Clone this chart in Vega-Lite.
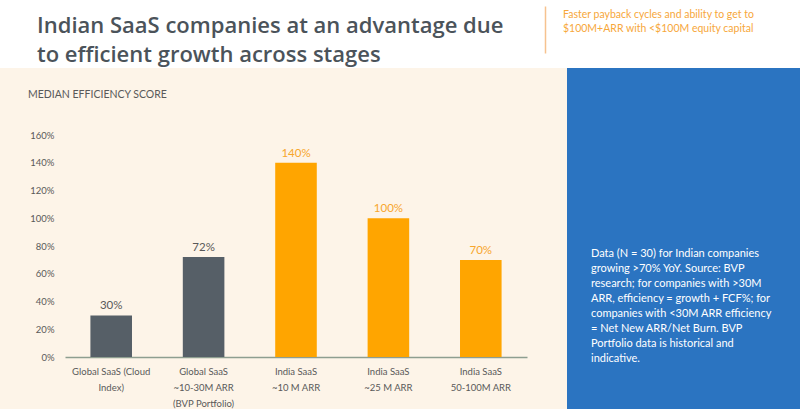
{
  "$schema": "https://vega.github.io/schema/vega-lite/v6.json",
  "background": "white",
  "padding": 0,
  "spacing": 0,
  "config": {"view": {"stroke": null}, "font": "Lato", "concat": {"spacing": 0}},
  "vconcat": [
    {
      "spacing": 0,
      "hconcat": [
        {
          "width": 545,
          "height": 68,
          "data": {"values": []},
          "mark": "point",
          "title": {
            "text": ["Indian SaaS companies at an advantage due", "to efficient growth across stages"],
            "orient": "top", "anchor": "start", "frame": "group", "offset": 0,
            "baseline": "alphabetic", "dx": 37, "dy": 84, "lineHeight": 29,
            "font": "Open Sans", "fontSize": 22, "fontWeight": 600, "color": "#4b535a"
          }
        },
        {
          "width": 255,
          "height": 68,
          "data": {"values": [{"k": 1}]},
          "mark": {"type": "point", "opacity": 0},
          "encoding": {
            "y": {
              "datum": 0, "type": "quantitative",
              "scale": {"domain": [0, 1], "range": [53, 6]},
              "axis": {"orient": "left", "domain": true, "domainColor": "#f6c28f", "domainWidth": 1.5,
                       "ticks": false, "labels": false, "grid": false, "title": null}
            }
          },
          "title": {
            "text": ["Faster payback cycles and ability to get to", "$100M+ARR with <$100M equity capital"],
            "orient": "top", "anchor": "start", "frame": "group", "offset": 0,
            "baseline": "alphabetic", "dx": 18, "dy": 42, "lineHeight": 14,
            "font": "Lato", "fontSize": 10.5, "fontWeight": "normal", "color": "#f7a73a"
          }
        }
      ]
    },
    {
      "spacing": 0,
      "hconcat": [
        {
          "width": 567,
          "height": 341,
          "view": {"fill": "#fdf4e8", "stroke": null},
          "title": {
            "text": "MEDIAN EFFICIENCY SCORE",
            "orient": "top", "anchor": "start", "frame": "group", "offset": 0,
            "baseline": "alphabetic", "dx": 28, "dy": 40,
            "font": "Lato", "fontSize": 10.5, "fontWeight": "normal", "color": "#595959"
          },
          "data": {
            "values": [
              {"cat": "Global SaaS (Cloud|Index)", "group": "Global", "v": 30, "lbl": "30%"},
              {"cat": "Global SaaS|~10-30M ARR|(BVP Portfolio)", "group": "Global", "v": 72, "lbl": "72%"},
              {"cat": "India SaaS|~10 M ARR", "group": "India", "v": 140, "lbl": "140%"},
              {"cat": "India SaaS|~25 M ARR", "group": "India", "v": 100, "lbl": "100%"},
              {"cat": "India SaaS|50-100M ARR", "group": "India", "v": 70, "lbl": "70%"}
            ]
          },
          "encoding": {
            "x": {
              "field": "cat", "type": "nominal", "sort": null,
              "scale": {"range": [65, 527], "paddingInner": 0.55, "paddingOuter": 0.275},
              "axis": {
                "orient": "bottom", "offset": -52, "title": null, "labelAngle": 0,
                "domainColor": "#8e9e90", "domainWidth": 1.5, "ticks": false,
                "labelPadding": 9, "labelFontSize": 9.5, "labelColor": "#595959",
                "labelLineHeight": 16, "labelExpr": "split(datum.label, '|')"
              }
            },
            "y": {
              "field": "v", "type": "quantitative",
              "scale": {"domain": [0, 160], "range": [289, 67], "nice": false, "zero": true},
              "axis": {
                "orient": "left", "offset": -65, "title": null, "domain": false, "ticks": false,
                "grid": false, "labelPadding": 11, "labelFontSize": 9.5, "labelColor": "#595959",
                "values": [0, 20, 40, 60, 80, 100, 120, 140, 160],
                "labelExpr": "datum.value + '%'"
              }
            }
          },
          "layer": [
            {
              "mark": {"type": "bar"},
              "encoding": {
                "color": {
                  "field": "group", "type": "nominal", "legend": null,
                  "scale": {"domain": ["Global", "India"], "range": ["#565f67", "#ffa500"]}
                }
              }
            },
            {
              "mark": {"type": "text", "baseline": "bottom", "dy": -4, "fontSize": 11.5, "font": "Lato"},
              "encoding": {
                "text": {"field": "lbl"},
                "color": {
                  "field": "group", "type": "nominal", "legend": null,
                  "scale": {"domain": ["Global", "India"], "range": ["#595959", "#f7a62c"]}
                }
              }
            }
          ],
          "resolve": {"scale": {"color": "independent"}}
        },
        {
          "width": 233,
          "height": 341,
          "view": {"fill": "#2b74c1", "stroke": null},
          "data": {"values": []},
          "mark": "point",
          "title": {
            "text": [
              "Data (N = 30) for Indian companies",
              "growing >70% YoY. Source: BVP",
              "research; for companies with >30M",
              "ARR, efficiency = growth + FCF%; for",
              "companies with <30M ARR efficiency",
              "= Net New ARR/Net Burn. BVP",
              "Portfolio data is historical and",
              "indicative."
            ],
            "orient": "top", "anchor": "start", "frame": "group", "offset": 0,
            "baseline": "alphabetic", "dx": 24, "dy": 305, "lineHeight": 15,
            "font": "Lato", "fontSize": 11, "fontWeight": "normal", "color": "#ffffff"
          }
        }
      ]
    }
  ]
}
